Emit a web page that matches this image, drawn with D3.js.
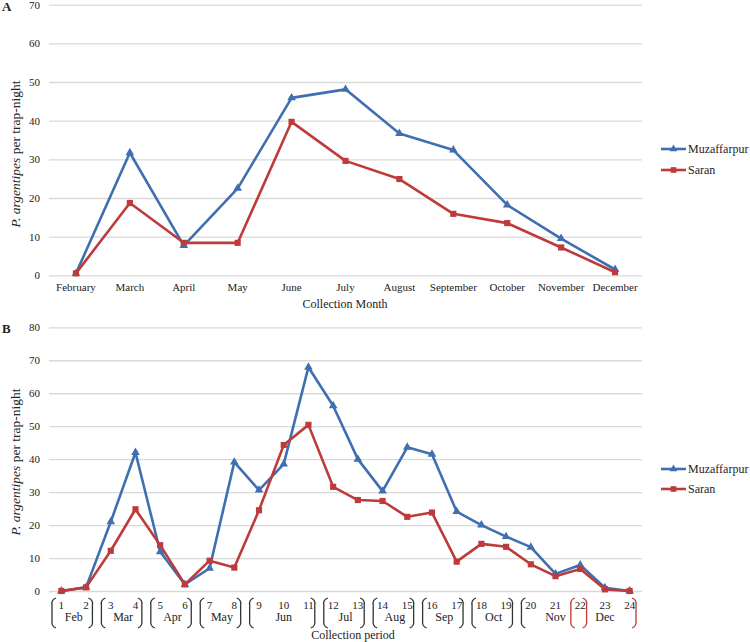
<!DOCTYPE html>
<html>
<head>
<meta charset="utf-8">
<script src="https://cdn.jsdelivr.net/npm/d3@7"></script>
<style>
  body { margin: 0; background: #fff; }
  svg { display: block; font-family: "Liberation Serif", "Times New Roman", serif; }
  .grid line { stroke: #d9d9d9; stroke-width: 1.3; }
  .grid path { display: none; }
  .axis path { display: none; }
  .axis text { fill: #222; font-family: "Liberation Serif", "Times New Roman", serif; }
</style>
</head>
<body>
<svg id="chart" width="750" height="642"></svg>
<script>
// panel A: monthly means
const months = ["February", "March", "April", "May", "June", "July", "August", "September", "October", "November", "December"];
const muzMonthly = [0.5, 31.7, 7.7, 22.5, 45.9, 48.1, 36.7, 32.4, 18.2, 9.5, 1.5];
const saranMonthly = [0.5, 18.7, 8.4, 8.4, 39.7, 29.6, 24.9, 15.9, 13.5, 7.2, 0.8];

// panel B: fortnightly collection periods
const periods = d3.range(1, 25);
const muzPeriod = [0, 1.1, 21, 42, 11.9, 2, 6.9, 39.1, 30.6, 38.5, 67.9, 56.2, 40, 30.3, 43.6, 41.5, 24.1, 20, 16.5, 13.3, 5.2, 7.9, 1, 0];
const saranPeriod = [0, 1.1, 12.2, 24.8, 13.9, 2, 9.2, 7.1, 24.5, 44.3, 50.4, 31.6, 27.6, 27.3, 22.5, 23.8, 8.9, 14.3, 13.4, 8.1, 4.5, 6.7, 0.5, 0];

// month groups under panel B (first and last period of each)
const groupNames = ["Feb", "Mar", "Apr", "May", "Jun", "Jul", "Aug", "Sep", "Oct", "Nov", "Dec"];
const groupFirst = [1, 3, 5, 7, 9, 12, 14, 16, 18, 20, 22];
const groupLast = [2, 4, 6, 8, 11, 13, 15, 17, 19, 22, 24];
const openBrackets = [1, 3, 5, 7, 9, 12, 14, 16, 18, 20, 22];
const closeBrackets = [2, 4, 6, 8, 11, 13, 15, 17, 19, 22, 24];
const redOpen = [22];
const redClose = [22, 24];

const seriesNames = ["Muzaffarpur", "Saran"];
const blue = "#3f6fb1", red = "#be3b3b";

const svg = d3.select("#chart");
const plotLeft = 49, plotRight = 642;

function drawPanel(opt) {
  const g = svg.append("g");
  const x = d3.scaleBand().domain(opt.cats).range([plotLeft, plotRight]);
  const y = d3.scaleLinear().domain([0, opt.yMax]).range([opt.bottom, opt.top]);
  const ticks = d3.range(0, opt.yMax + 1, 10);

  g.append("g").attr("class", "grid")
    .attr("transform", `translate(${plotLeft},0)`)
    .call(d3.axisLeft(y).tickValues(ticks).tickSize(-(plotRight - plotLeft)).tickFormat(""));

  g.append("g").attr("class", "axis")
    .attr("transform", `translate(${plotLeft},0)`)
    .call(d3.axisLeft(y).tickValues(ticks).tickSize(0).tickPadding(9))
    .selectAll("text").style("font-size", "11px");

  const cx = d => x(d) + x.bandwidth() / 2;
  const line = d3.line().x((d, i) => cx(opt.cats[i])).y(d => y(d));

  const series = [
    { values: opt.muz, color: blue, symbol: d3.symbolTriangle, size: 32 },
    { values: opt.saran, color: red, symbol: d3.symbolSquare, size: 38 }
  ];

  series.forEach(s => {
    g.append("path")
      .datum(s.values)
      .attr("fill", "none")
      .attr("stroke", s.color)
      .attr("stroke-width", 2.6)
      .attr("stroke-linejoin", "round")
      .attr("d", line);
  });
  series.forEach(s => {
    g.selectAll(null)
      .data(s.values)
      .enter().append("path")
      .attr("transform", (d, i) => `translate(${cx(opt.cats[i])},${y(d)})`)
      .attr("d", d3.symbol().type(s.symbol).size(s.size))
      .attr("fill", s.color);
  });

  // legend
  series.forEach((s, i) => {
    const ly = opt.legendY[i];
    g.append("line")
      .attr("x1", 661).attr("x2", 686).attr("y1", ly).attr("y2", ly)
      .attr("stroke", s.color).attr("stroke-width", 2.6);
    g.append("path")
      .attr("transform", `translate(673.5,${ly})`)
      .attr("d", d3.symbol().type(s.symbol).size(s.size - 6))
      .attr("fill", s.color);
    g.append("text")
      .attr("x", 688).attr("y", ly).attr("dy", "0.35em")
      .style("font-size", "12px").attr("fill", "#222")
      .text(seriesNames[i]);
  });

  // y title
  const yt = g.append("text")
    .attr("transform", `translate(20,${opt.titleY}) rotate(-90)`)
    .attr("text-anchor", "middle")
    .style("font-size", "13.5px").attr("fill", "#222");
  yt.append("tspan").style("font-style", "italic").text("P. argentipes");
  yt.append("tspan").text(" per trap-night");

  // panel letter
  g.append("text")
    .attr("x", 2).attr("y", opt.top + 6)
    .style("font-size", "13px").style("font-weight", "bold").attr("fill", "#222")
    .text(opt.letter);

  return { g, x, y, cx };
}

// panel A
const a = drawPanel({
  cats: months, muz: muzMonthly, saran: saranMonthly,
  yMax: 70, top: 4.7, bottom: 275.3, legendY: [149, 170], titleY: 154, letter: "A"
});
a.g.append("g").attr("class", "axis")
  .attr("transform", "translate(0,275.3)")
  .call(d3.axisBottom(a.x).tickSize(0).tickPadding(8))
  .selectAll("text").style("font-size", "11px");
a.g.append("text")
  .attr("x", 345).attr("y", 308)
  .attr("text-anchor", "middle").style("font-size", "12px").attr("fill", "#222")
  .text("Collection Month");

// panel B
const b = drawPanel({
  cats: periods, muz: muzPeriod, saran: saranPeriod,
  yMax: 80, top: 327.3, bottom: 591, legendY: [469, 489], titleY: 462, letter: "B"
});
const step = b.x.step();
const bTop = 598, bBot = 628;

b.g.selectAll(".pnum")
  .data(periods)
  .enter().append("text")
  .attr("class", "pnum")
  .attr("x", d => b.cx(d))
  .attr("y", 609)
  .attr("text-anchor", "middle")
  .style("font-size", "11px").attr("fill", "#222")
  .text(d => d);

b.g.selectAll(".gname")
  .data(groupNames)
  .enter().append("text")
  .attr("class", "gname")
  .attr("x", (d, i) => (b.cx(groupFirst[i]) + b.cx(groupLast[i])) / 2)
  .attr("y", 621)
  .attr("text-anchor", "middle")
  .style("font-size", "12px").attr("fill", "#222")
  .text(d => d);

b.g.selectAll(".open")
  .data(openBrackets)
  .enter().append("path")
  .attr("d", p => {
    const bx = b.x(p) + 3;
    return `M${bx + 4},${bTop} Q${bx - 1},${bTop + 2} ${bx},${bTop + 7} L${bx},${bBot - 7} Q${bx - 1},${bBot - 2} ${bx + 4},${bBot}`;
  })
  .attr("fill", "none")
  .attr("stroke", p => redOpen.includes(p) ? "#c0392b" : "#333")
  .attr("stroke-width", 1.3);

b.g.selectAll(".close")
  .data(closeBrackets)
  .enter().append("path")
  .attr("d", p => {
    const bx = b.x(p) + step - 6;
    return `M${bx - 4},${bTop} Q${bx + 1},${bTop + 2} ${bx},${bTop + 7} L${bx},${bBot - 7} Q${bx + 1},${bBot - 2} ${bx - 4},${bBot}`;
  })
  .attr("fill", "none")
  .attr("stroke", p => redClose.includes(p) ? "#c0392b" : "#333")
  .attr("stroke-width", 1.3);

b.g.append("text")
  .attr("x", 353).attr("y", 639)
  .attr("text-anchor", "middle").style("font-size", "12px").attr("fill", "#222")
  .text("Collection period");
</script>
</body>
</html>
